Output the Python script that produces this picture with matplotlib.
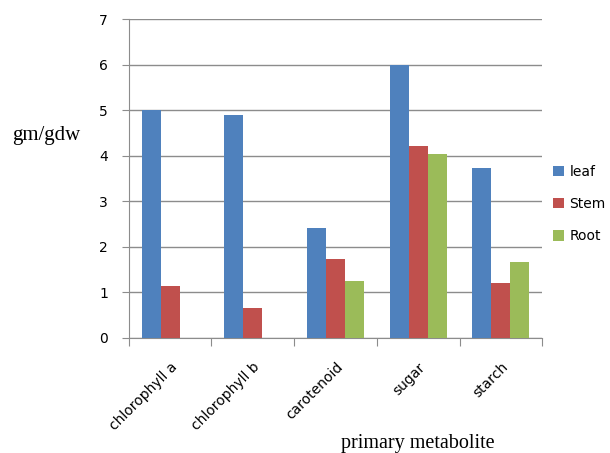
import numpy as np
import matplotlib.pyplot as plt

categories = ['chlorophyll a', 'chlorophyll b', 'carotenoid', 'sugar', 'starch']
leaf = [5.01, 4.90, 2.41, 6.00, 3.72]
stem = [1.13, 0.66, 1.73, 4.22, 1.20]
root = [0.0, 0.0, 1.26, 4.04, 1.67]

series = [('leaf', leaf, '#4F81BD'), ('Stem', stem, '#C0504D'), ('Root', root, '#9BBB59')]

fig = plt.figure(figsize=(6.1, 4.53), dpi=100)
ax = fig.add_axes([0.211, 0.254, 0.678, 0.704])

x = np.arange(len(categories))
w = 0.23
for i, (name, vals, col) in enumerate(series):
    ax.bar(x + (i - 1) * w, vals, w, color=col, label=name, zorder=3)

ax.set_xlim(-0.5, len(categories) - 0.5)
ax.set_ylim(0, 7)
ax.set_yticks(range(8))
ax.yaxis.grid(True, color='#8c8c8c', lw=1.0, zorder=0)

# category boundary ticks on x axis
ax.set_xticks(np.arange(-0.5, len(categories)), minor=False)
ax.set_xticklabels([])
ax.set_xticks(x, minor=True)
ax.set_xticklabels(categories, minor=True, rotation=45, ha='right',
                   rotation_mode='anchor', fontsize=10, family='DejaVu Sans')
ax.tick_params(axis='x', which='minor', length=0, pad=16)
ax.tick_params(axis='x', which='major', length=6, color='#8c8c8c')
ax.tick_params(axis='y', length=5, color='#8c8c8c', labelsize=10, pad=10)

for s in ['top', 'right']:
    ax.spines[s].set_visible(False)
for s in ['left', 'bottom']:
    ax.spines[s].set_color('#8c8c8c')

ax.set_ylabel('gm/gdw', rotation=0, family='Liberation Serif', fontsize=15)
ax.yaxis.set_label_coords(-0.199, 0.605)
ax.set_xlabel('primary metabolite', family='Liberation Serif', fontsize=14.5)
ax.xaxis.set_label_coords(0.70, -0.302)

ax.legend(loc='center left', bbox_to_anchor=(1.005, 0.42), frameon=False,
          handlelength=0.8, handleheight=0.8, handletextpad=0.4,
          labelspacing=1.3, fontsize=10, borderaxespad=0.2)

fig.savefig('out.png', dpi=100)
